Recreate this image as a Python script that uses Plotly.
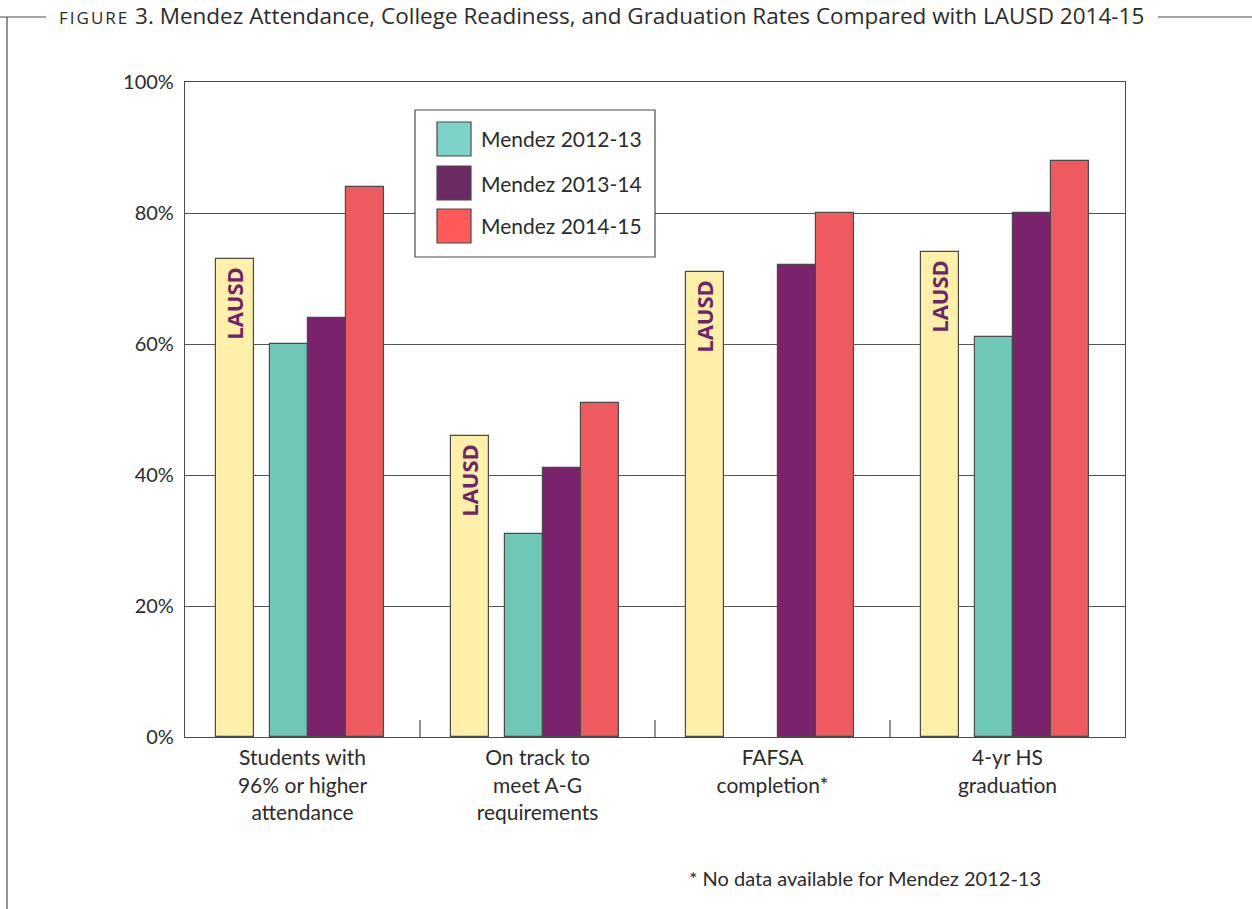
import plotly.graph_objects as go

# ---------------- data ----------------
categories = [
    "Students with<br>96% or higher<br>attendance",
    "On track to<br>meet A-G<br>requirements",
    "FAFSA<br>completion*",
    "4-yr HS<br>graduation",
]
lausd = [73, 46, 71, 74]
mendez_2012_13 = [60, 31, None, 61]
mendez_2013_14 = [64, 41, 72, 80]
mendez_2014_15 = [84, 51, 80, 88]
series_names = ["Mendez 2012-13", "Mendez 2013-14", "Mendez 2014-15"]
y_tick_vals = [0, 20, 40, 60, 80, 100]
y_tick_text = ["0%", "20%", "40%", "60%", "80%", "100%"]
title_text = "FIGURE 3. Mendez Attendance, College Readiness, and Graduation Rates Compared with LAUSD 2014-15"
footnote = "* No data available for Mendez 2012-13"

# ---------------- layout constants ----------------
W, H = 1252, 909
L, R, T, B = 185, 1125, 82, 737
FONT = "Lato"
TXT = "#2b2b2b"
EDGE = "#4a4a4a"


def px_x(p):
    return (p - L) / (R - L)


def px_y(p):
    return (B - p) / (B - T)


bar_w = 0.162
offsets = [-0.287, -0.058, 0.104, 0.266]
bar_colors = ["#FEF0A9", "#6FC7B8", "#7A226B", "#EF5A5E"]
legend_colors = ["#7DD3C7", "#6B2A63", "#FF5A5A"]

xs = list(range(len(categories)))
fig = go.Figure()

fig.add_trace(go.Bar(
    x=[i + offsets[0] for i in xs], y=lausd, width=bar_w,
    marker=dict(color=bar_colors[0], line=dict(color=EDGE, width=1.2)),
    text=["LAUSD\u00a0"] * len(xs), textposition="inside", insidetextanchor="end",
    textangle=-90, constraintext="none",
    textfont=dict(family="Open Sans", size=22, color="#6E2468", weight="bold"),
    name="LAUSD", showlegend=False,
))
for k, vals in enumerate([mendez_2012_13, mendez_2013_14, mendez_2014_15]):
    fig.add_trace(go.Bar(
        x=[i + offsets[k + 1] for i in xs], y=vals, width=bar_w,
        marker=dict(color=bar_colors[k + 1], line=dict(color=EDGE, width=1.2)),
        name=series_names[k], showlegend=False,
    ))

shapes = []
# category separator ticks
for s in [0.5, 1.5, 2.5]:
    shapes.append(dict(type="line", xref="x", yref="y", x0=s, x1=s, y0=0, y1=2.6,
                       line=dict(color=EDGE, width=1.2)))
# legend box
shapes.append(dict(type="rect", xref="paper", yref="paper",
                   x0=px_x(415), x1=px_x(655), y0=px_y(257), y1=px_y(110),
                   fillcolor="white", line=dict(color=EDGE, width=1.2), layer="above"))
annotations = []
row_tops = [122, 166, 209]
for k, name in enumerate(series_names):
    y0 = row_tops[k]
    shapes.append(dict(type="rect", xref="paper", yref="paper",
                       x0=px_x(437), x1=px_x(471), y0=px_y(y0 + 34), y1=px_y(y0),
                       fillcolor=legend_colors[k], line=dict(color=EDGE, width=1.2), layer="above"))
    annotations.append(dict(xref="paper", yref="paper", x=px_x(479), y=px_y(y0 + 17),
                            xanchor="left", yanchor="middle", showarrow=False, text=name,
                            font=dict(family=FONT, size=21, color=TXT)))

# outer frame lines
shapes.append(dict(type="line", xref="paper", yref="paper", x0=px_x(0), x1=px_x(46),
                   y0=px_y(17), y1=px_y(17), line=dict(color=EDGE, width=1.2)))
shapes.append(dict(type="line", xref="paper", yref="paper", x0=px_x(1158), x1=px_x(1252),
                   y0=px_y(17), y1=px_y(17), line=dict(color=EDGE, width=1.2)))
shapes.append(dict(type="line", xref="paper", yref="paper", x0=px_x(7), x1=px_x(7),
                   y0=px_y(17), y1=px_y(909), line=dict(color=EDGE, width=1.2)))

# title
annotations.append(dict(xref="paper", yref="paper", x=px_x(601), y=px_y(15),
                        xanchor="center", yanchor="middle", showarrow=False,
                        text="<span style='font-size:17px;letter-spacing:2px'>FIGURE</span> " + title_text[len("FIGURE "):],
                        font=dict(family="Open Sans", size=22.5, color=TXT)))
# footnote
annotations.append(dict(xref="paper", yref="paper", x=px_x(687), y=px_y(878),
                        xanchor="left", yanchor="middle", showarrow=False, text=footnote,
                        font=dict(family=FONT, size=20, color=TXT)))

fig.update_layout(
    width=W, height=H,
    margin=dict(l=L, r=W - R, t=T, b=H - B, pad=0),
    paper_bgcolor="white", plot_bgcolor="white",
    barmode="overlay", bargap=0,
    shapes=shapes, annotations=annotations,
    font=dict(family=FONT, color=TXT),
)
fig.update_xaxes(range=[-0.5, 3.5], tickvals=xs, ticktext=categories,
                 tickfont=dict(family=FONT, size=21, color=TXT),
                 showgrid=False, showline=True, linecolor=EDGE, linewidth=1.2,
                 mirror=True, ticks="", zeroline=False, ticklabelstandoff=2)
fig.update_yaxes(range=[0, 100], tickvals=y_tick_vals, ticktext=y_tick_text,
                 tickfont=dict(family=FONT, size=20, color=TXT),
                 showgrid=True, gridcolor="#555555", gridwidth=1.2,
                 showline=True, linecolor=EDGE, linewidth=1.2, mirror=True,
                 ticks="", zeroline=False, ticklabelstandoff=6)

fig.write_html("out.html")
